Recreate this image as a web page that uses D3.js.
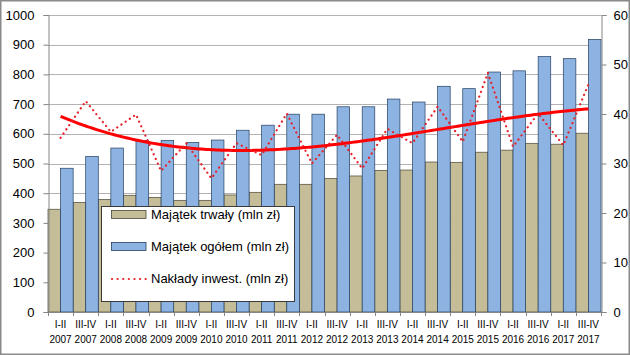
<!DOCTYPE html>
<html>
<head>
<meta charset="utf-8">
<script src="https://cdn.jsdelivr.net/npm/d3@7"></script>
<style>
  html, body { margin: 0; padding: 0; background: #fff; }
  svg { display: block; }
  text { font-family: "Liberation Sans", Arial, sans-serif; fill: #000; }
</style>
</head>
<body>
<svg id="chart" width="630" height="355"></svg>
<script>
const periods = ["I-II","III-IV","I-II","III-IV","I-II","III-IV","I-II","III-IV","I-II","III-IV","I-II","III-IV","I-II","III-IV","I-II","III-IV","I-II","III-IV","I-II","III-IV","I-II","III-IV"];
const years = ["2007","2007","2008","2008","2009","2009","2010","2010","2011","2011","2012","2012","2013","2013","2014","2014","2015","2015","2016","2016","2017","2017"];
const majatekTrwaly = [346,369,379,393,386,376,376,394,403,430,430,450,458,477,478,505,504,538,545,568,565,602];
const majatekOgolem = [484,524,552,577,578,571,579,612,629,666,666,691,691,717,707,760,752,808,812,860,853,918];
const naklady = [35.2,42.6,36.4,39.9,28.5,34.1,27.0,34.1,31.7,40.1,30.0,35.8,29.0,37.0,34.1,41.5,34.4,48.3,33.4,40.1,33.7,46.0];
const leftTicks = [0,100,200,300,400,500,600,700,800,900,1000];
const rightTicks = [0,10,20,30,40,50,60];
const seriesNames = ["Majątek trwały (mln zł)","Majątek ogółem (mln zł)","Nakłady inwest. (mln zł)"];

const svg = d3.select("#chart");
const L = 48, R = 601, T = 15, B = 312;
const idx = d3.range(periods.length);

const x = d3.scaleBand().domain(idx).range([L, R]).padding(0);
const xs = d3.scaleBand().domain([0,1]).range([0, x.bandwidth()]).padding(0);
const yL = d3.scaleLinear().domain([0,1000]).range([B, T]);
const yR = d3.scaleLinear().domain([0,60]).range([B, T]);

// outer border
svg.append("rect").attr("x",0.75).attr("y",0.75).attr("width",628.5).attr("height",353.5)
  .attr("fill","#fff").attr("stroke","#8a8a8a").attr("stroke-width",1.5);

// gridlines
svg.append("g").selectAll("line").data(leftTicks.filter(d=>d>0)).join("line")
  .attr("x1",L).attr("x2",R).attr("y1",d=>Math.round(yL(d))+0.5).attr("y2",d=>Math.round(yL(d))+0.5)
  .attr("stroke","#b3b3b3").attr("stroke-width",1);

// bars
const g = svg.append("g");
g.selectAll("rect.t").data(idx).join("rect").attr("class","t")
  .attr("x",i=>x(i)+xs(0)).attr("width",xs.bandwidth())
  .attr("y",i=>yL(majatekTrwaly[i])).attr("height",i=>B-yL(majatekTrwaly[i]))
  .attr("fill","#c4bd97").attr("stroke","#4a4636").attr("stroke-width",0.7);
g.selectAll("rect.o").data(idx).join("rect").attr("class","o")
  .attr("x",i=>x(i)+xs(1)).attr("width",xs.bandwidth())
  .attr("y",i=>yL(majatekOgolem[i])).attr("height",i=>B-yL(majatekOgolem[i]))
  .attr("fill","#8db3e2").attr("stroke","#243f60").attr("stroke-width",0.7);

// axes
const axL = d3.axisLeft(yL).tickValues(leftTicks).tickSize(5).tickPadding(9).tickFormat(d3.format("d"));
const gL = svg.append("g").attr("transform",`translate(${L+0.5},0)`).call(axL);
const axR = d3.axisRight(yR).tickValues(rightTicks).tickSize(5).tickPadding(7).tickFormat(d3.format("d"));
const gR = svg.append("g").attr("transform",`translate(${R+0.5},0)`).call(axR);
[gL,gR].forEach(a=>{
  a.select(".domain").attr("stroke","#868686");
  a.selectAll(".tick line").attr("stroke","#868686");
  a.selectAll(".tick text").attr("font-size","13px").attr("fill","#000")
    .attr("font-family","'Liberation Sans', Arial, sans-serif");
});

// x axis
svg.append("line").attr("x1",L).attr("x2",R).attr("y1",B+0.5).attr("y2",B+0.5).attr("stroke","#868686");
svg.append("g").selectAll("line").data(d3.range(periods.length+1)).join("line")
  .attr("x1",i=>Math.round(L + i*x.step())+0.5).attr("x2",i=>Math.round(L + i*x.step())+0.5)
  .attr("y1",B).attr("y2",B+4).attr("stroke","#868686");
const xl = svg.append("g").selectAll("text").data(idx).join("text")
  .attr("x",i=>x(i)+x.bandwidth()/2).attr("text-anchor","middle").attr("font-size","10px");
xl.append("tspan").attr("x",i=>x(i)+x.bandwidth()/2).attr("y",327.5).text(i=>periods[i]);
xl.append("tspan").attr("x",i=>x(i)+x.bandwidth()/2).attr("y",342.5).text(i=>years[i]);

// cubic polynomial trend (least squares) of naklady
function polyfit(xsArr, ysArr, order){
  const n = order+1;
  const A = Array.from({length:n},()=>new Array(n+1).fill(0));
  for(let r=0;r<n;r++){
    for(let c=0;c<n;c++) A[r][c] = d3.sum(xsArr, v=>Math.pow(v,r+c));
    A[r][n] = d3.sum(xsArr.map((v,k)=>Math.pow(v,r)*ysArr[k]));
  }
  for(let p=0;p<n;p++){
    let m=p; for(let r=p+1;r<n;r++) if(Math.abs(A[r][p])>Math.abs(A[m][p])) m=r;
    [A[p],A[m]]=[A[m],A[p]];
    for(let r=0;r<n;r++){ if(r===p) continue; const f=A[r][p]/A[p][p]; for(let c=p;c<=n;c++) A[r][c]-=f*A[p][c]; }
  }
  return A.map((row,k)=>row[n]/row[k]);
}
const xv = idx.map(i=>i+1);
const coef = polyfit(xv, naklady, 3);
const trend = t => coef.reduce((s,c,k)=>s+c*Math.pow(t,k),0);
const cx = t => x(0)+x.bandwidth()/2 + (t-1)*x.step();
const samples = d3.range(1, periods.length+0.001, 0.1);
svg.append("path").datum(samples)
  .attr("d", d3.line().x(t=>cx(t)).y(t=>yR(trend(t))).curve(d3.curveLinear))
  .attr("fill","none").attr("stroke","#ff0000").attr("stroke-width",3);

// dotted line
svg.append("path").datum(idx)
  .attr("d", d3.line().x(i=>x(i)+x.bandwidth()/2).y(i=>yR(naklady[i])))
  .attr("fill","none").attr("stroke","#e8202a").attr("stroke-width",2.2)
  .attr("stroke-linecap","round").attr("stroke-dasharray","0.1 5");

// legend
const lg = svg.append("g");
lg.append("rect").attr("x",101.5).attr("y",206.5).attr("width",193).attr("height",95)
  .attr("fill","#fff").attr("stroke","#3a3a3a").attr("stroke-width",1);
lg.append("rect").attr("x",111.5).attr("y",210.5).attr("width",34.5).attr("height",8)
  .attr("fill","#c4bd97").attr("stroke","#4a4636").attr("stroke-width",0.8);
lg.append("rect").attr("x",111.5).attr("y",242.5).attr("width",34.5).attr("height",8)
  .attr("fill","#8db3e2").attr("stroke","#243f60").attr("stroke-width",0.8);
lg.append("line").attr("x1",112).attr("x2",146).attr("y1",279).attr("y2",279)
  .attr("stroke","#e8202a").attr("stroke-width",2.2).attr("stroke-linecap","round").attr("stroke-dasharray","0.1 5.5");
lg.selectAll("text").data(seriesNames).join("text")
  .attr("x",151).attr("y",(d,i)=>[219,251,283][i]).attr("font-size","13px").text(d=>d);
</script>
</body>
</html>
